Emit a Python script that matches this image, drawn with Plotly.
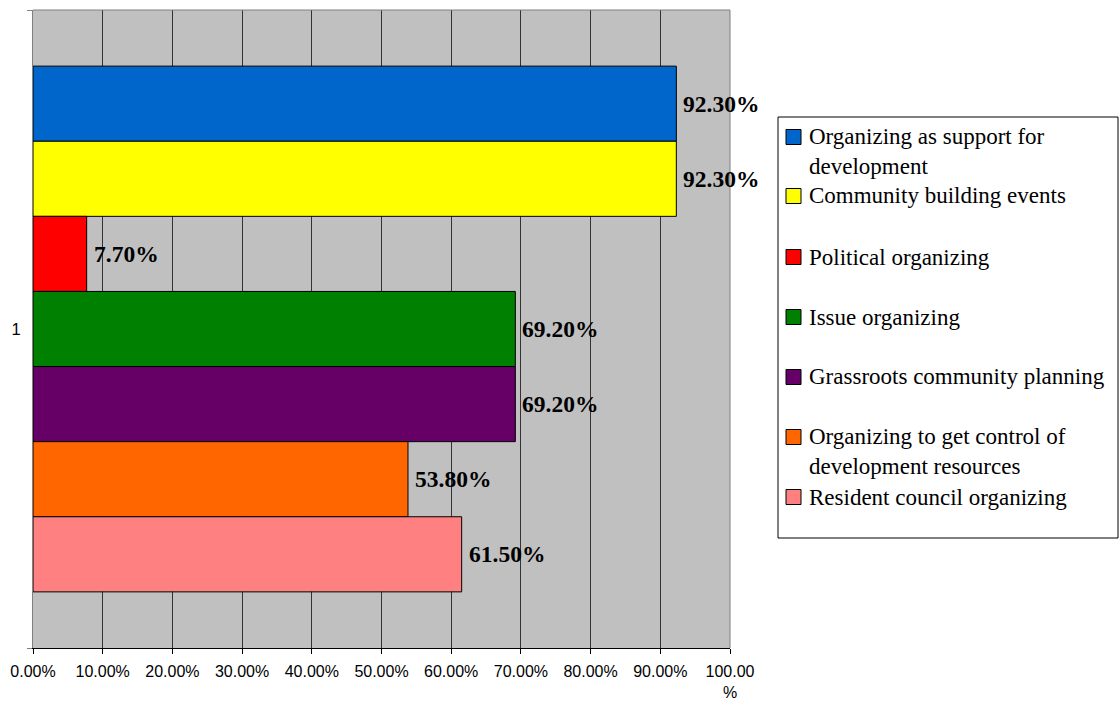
import plotly.graph_objects as go

# Share of organizations doing each kind of organizing
series_names = [
    "Organizing as support for<br>development",
    "Community building events",
    "Political organizing",
    "Issue organizing",
    "Grassroots community planning",
    "Organizing to get control of<br>development resources",
    "Resident council organizing",
]
series_values = [92.3, 92.3, 7.7, 69.2, 69.2, 53.8, 61.5]
series_colors = ["#0066CC", "#FFFF00", "#FF0000", "#008000", "#660066", "#FF6600", "#FF8080"]
category = ["1"]

tick_values = [0, 10, 20, 30, 40, 50, 60, 70, 80, 90, 100]
tick_labels = ["0.00%", "10.00%", "20.00%", "30.00%", "40.00%", "50.00%",
               "60.00%", "70.00%", "80.00%", "90.00%", "100.00<br>%"]

SERIF = "Liberation Serif, Times New Roman, serif"
SANS = "Liberation Sans, Arial, sans-serif"

W, H = 1120, 704
L, R, T, B = 33, 390, 10, 56
PW, PH = W - L - R, H - T - B


def px_x(x):
    return (x - L) / PW


def px_y(y):
    return (H - B - y) / PH


fig = go.Figure()
for name, val, col in zip(series_names, series_values, series_colors):
    fig.add_trace(go.Bar(
        y=category,
        x=[val],
        name=name,
        orientation="h",
        marker=dict(color=col, line=dict(color="black", width=1)),
        hoverinfo="skip",
        showlegend=False,
    ))

# value labels at the end of each bar (grouped bar offsets within the single category)
n = len(series_values)
bargap = 0.176
slot = (1 - bargap) / n
annotations = []
for i, val in enumerate(series_values):
    ypos = -(1 - bargap) / 2 + slot * (i + 0.5)
    annotations.append(dict(
        x=val, y=ypos, xref="x", yref="y",
        text=f"{val:.2f}%", showarrow=False,
        xanchor="left", yanchor="middle", xshift=5,
        font=dict(family=SERIF, size=23.5, color="black", weight="bold"),
    ))

# legend box drawn beside the plot
legend_left, legend_right, legend_top, legend_bottom = 778, 1118, 117, 538
legend_rows = [137, 196, 257, 317, 377, 437, 497]
shapes = [
    dict(type="line", xref="paper", yref="paper", x0=0, x1=1, y0=1, y1=1,
         line=dict(color="#808080", width=1)),
    dict(type="line", xref="paper", yref="paper", x0=1, x1=1, y0=0, y1=1,
         line=dict(color="#808080", width=1)),
    dict(type="rect", xref="paper", yref="paper",
         x0=px_x(legend_left), x1=px_x(legend_right),
         y0=px_y(legend_bottom), y1=px_y(legend_top),
         line=dict(color="black", width=1), fillcolor="white"),
]
line_step = 23 * 1.3
for name, col, row in zip(series_names, series_colors, legend_rows):
    shapes.append(dict(
        type="rect", xref="paper", yref="paper",
        x0=px_x(786), x1=px_x(801), y0=px_y(row + 7.5), y1=px_y(row - 7.5),
        line=dict(color="black", width=1), fillcolor=col,
    ))
    lines = name.count("<br>") + 1
    center = row + (lines - 1) * line_step / 2
    annotations.append(dict(
        x=px_x(807), y=px_y(center), xref="paper", yref="paper",
        text=name, showarrow=False, align="left",
        xanchor="left", yanchor="middle",
        font=dict(family=SERIF, size=23, color="black"),
    ))

fig.update_layout(
    width=W,
    height=H,
    margin=dict(l=L, r=R, t=T, b=B),
    paper_bgcolor="white",
    plot_bgcolor="#C0C0C0",
    barmode="group",
    bargap=bargap,
    bargroupgap=0,
    showlegend=False,
    xaxis=dict(
        range=[0, 100],
        tickvals=tick_values,
        ticktext=tick_labels,
        tickfont=dict(family=SANS, size=16, color="black"),
        ticklabelstandoff=4,
        automargin=False,
        showgrid=True,
        gridcolor="#333333",
        gridwidth=1,
        showline=True,
        linecolor="black",
        linewidth=1,
        ticks="outside",
        ticklen=5,
        tickcolor="black",
        zeroline=False,
        fixedrange=True,
    ),
    yaxis=dict(
        range=[0.5, -0.5],
        type="category",
        tickfont=dict(family=SANS, size=16.5, color="black"),
        ticklabelstandoff=8,
        automargin=False,
        showline=True,
        linecolor="#808080",
        linewidth=1,
        ticks="outside",
        tickson="boundaries",
        ticklen=5,
        tickcolor="#808080",
        showgrid=False,
        fixedrange=True,
    ),
    shapes=shapes,
    annotations=annotations,
)

fig.write_html("out.html")
